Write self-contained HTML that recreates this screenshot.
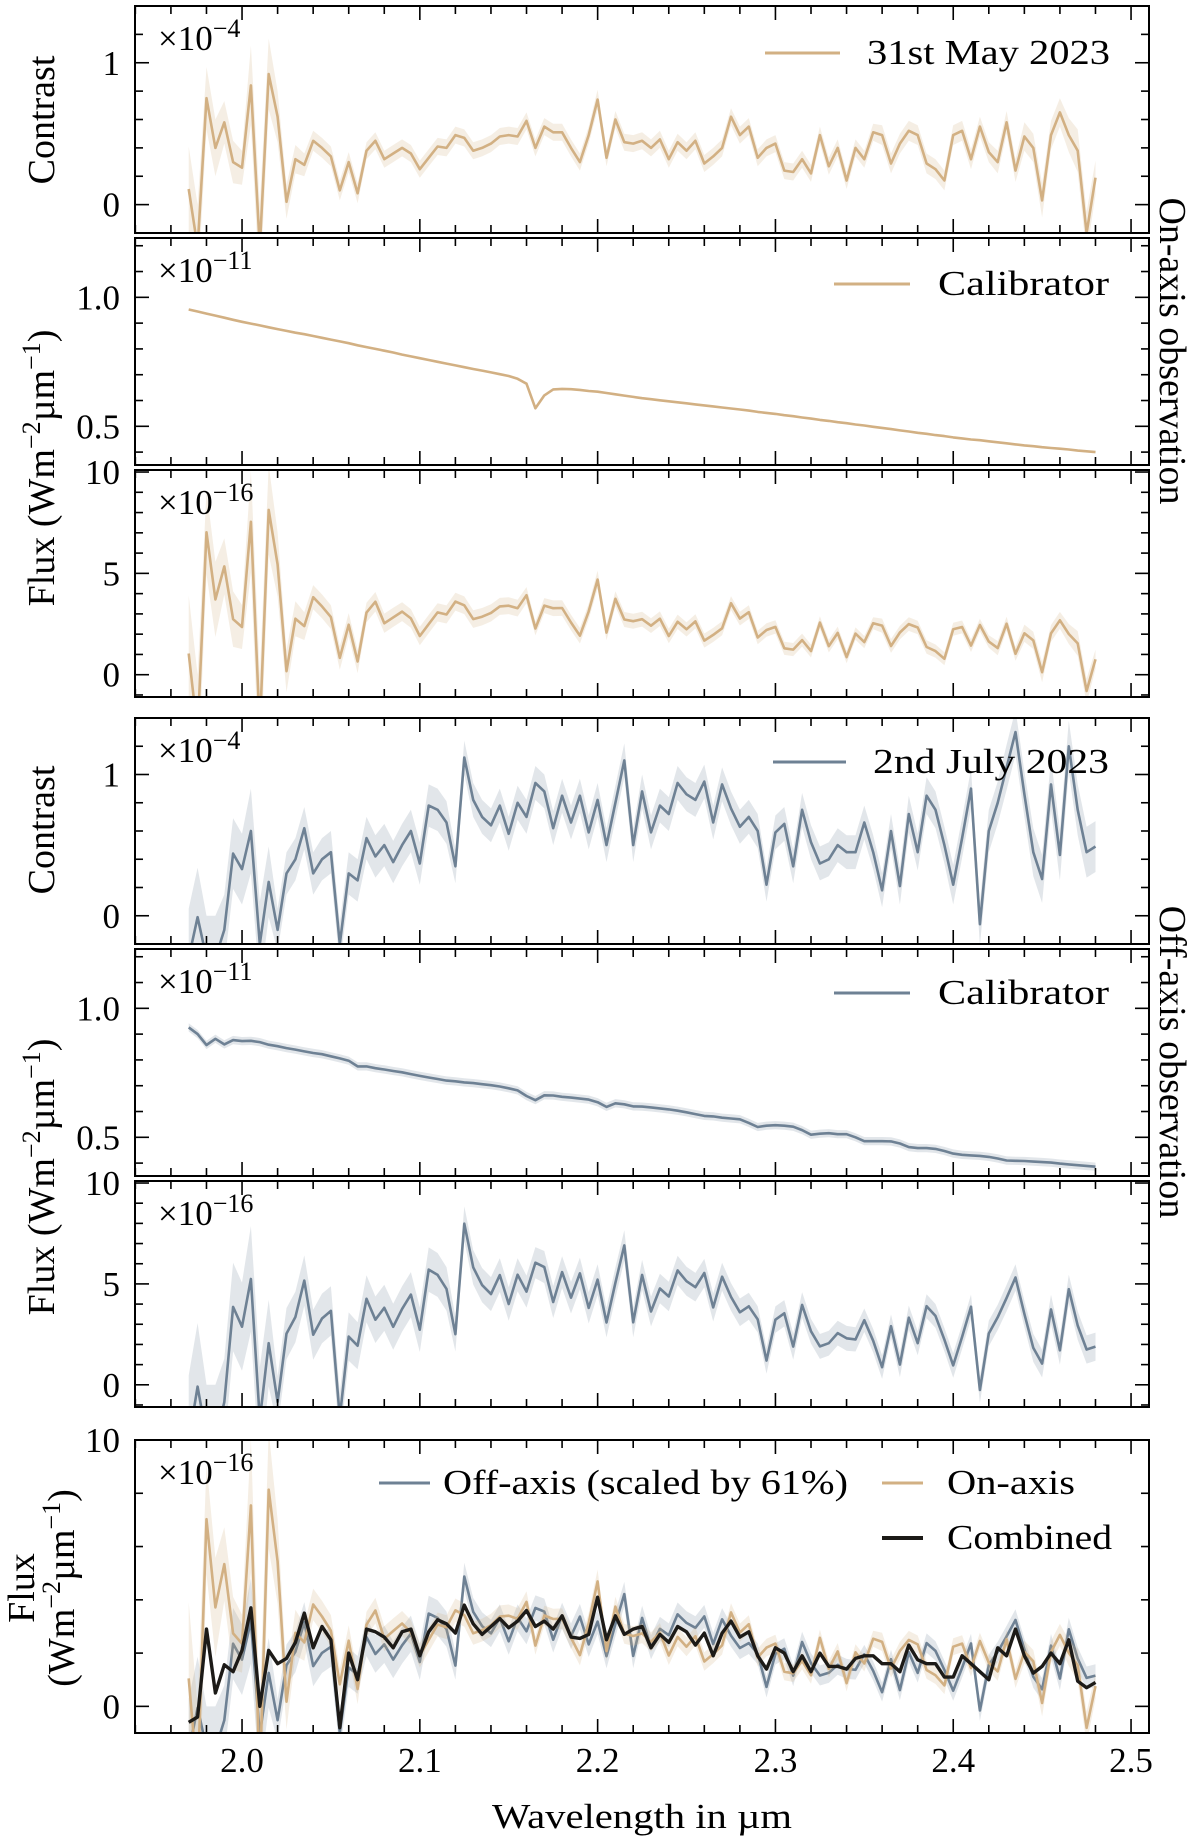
<!DOCTYPE html>
<html><head><meta charset="utf-8"><style>
html,body{margin:0;padding:0;background:#fff}
svg{display:block;font-family:"Liberation Serif","DejaVu Serif",serif}
</style></head><body>
<svg id="fig" width="1200" height="1846" viewBox="0 0 1200 1846" xmlns="http://www.w3.org/2000/svg"></svg>
<script>
const wlStart = 1.97;
const wlStep = 0.005;
const xTicks = [2.0, 2.1, 2.2, 2.3, 2.4, 2.5];
const xTickLabels = ["2.0","2.1","2.2","2.3","2.4","2.5"];
const contrastOn = [0.11,-0.3,0.75,0.40,0.58,0.30,0.26,0.84,-0.3,0.92,
0.62,0.02,0.32,0.28,0.45,0.40,0.34,0.10,0.30,0.08,
0.38,0.45,0.32,0.36,0.40,0.36,0.25,0.33,0.41,0.40,
0.49,0.47,0.38,0.40,0.43,0.48,0.49,0.48,0.59,0.40,
0.55,0.51,0.51,0.40,0.30,0.49,0.74,0.33,0.60,0.44,
0.43,0.45,0.40,0.46,0.32,0.44,0.38,0.45,0.29,0.34,
0.40,0.62,0.49,0.55,0.33,0.40,0.43,0.24,0.23,0.32,
0.22,0.49,0.27,0.40,0.17,0.40,0.32,0.51,0.49,0.29,
0.43,0.52,0.49,0.29,0.25,0.17,0.49,0.52,0.32,0.55,
0.37,0.30,0.58,0.24,0.48,0.40,0.03,0.49,0.65,0.49,
0.38,-0.2,0.19];
const contrastOnErr = [.30,.30,.22,.20,.15,.15,.12,.28,.30,.25,
.18,.12,.10,.08,.07,.07,.07,.07,.07,.07,
.06,.06,.06,.06,.06,.06,.06,.06,.06,.06,
.06,.06,.06,.06,.06,.06,.06,.06,.06,.06,
.06,.06,.06,.06,.06,.06,.07,.06,.06,.06,
.06,.06,.06,.06,.06,.06,.06,.06,.06,.06,
.06,.06,.06,.06,.06,.06,.06,.06,.06,.06,
.06,.06,.06,.06,.06,.06,.06,.06,.07,.07,
.07,.07,.07,.07,.07,.07,.07,.07,.07,.07,
.07,.08,.08,.08,.10,.10,.12,.10,.10,.12,
.15,.15,.12];
const calOn = [.953,.945,.937,.929,.921,.913,.905,.898,.891,.884,
.877,.870,.863,.857,.850,.843,.836,.829,.822,.814,
.807,.800,.793,.786,.778,.771,.764,.757,.750,.743,
.736,.729,.722,.716,.709,.702,.695,.684,.665,.570,
.620,.643,.645,.644,.641,.637,.634,.629,.624,.619,
.614,.609,.605,.601,.597,.593,.589,.585,.581,.577,
.573,.569,.565,.561,.556,.552,.548,.543,.539,.534,
.530,.525,.521,.516,.512,.507,.503,.498,.494,.489,
.484,.480,.475,.471,.466,.462,.457,.453,.449,.446,
.442,.438,.434,.430,.426,.423,.419,.416,.413,.410,
.406,.403,.400];
const contrastOff = [-0.3,-0.01,-0.3,-0.3,-0.1,0.44,0.33,0.60,-0.2,0.24,
-0.1,0.30,0.40,0.62,0.30,0.40,0.45,-0.2,0.30,0.25,
0.55,0.42,0.50,0.38,0.50,0.60,0.37,0.78,0.75,0.66,
0.35,1.12,0.82,0.70,0.64,0.78,0.58,0.80,0.70,0.94,
0.88,0.62,0.85,0.66,0.85,0.59,0.82,0.50,0.80,1.10,
0.50,0.88,0.59,0.78,0.72,0.94,0.86,0.82,0.95,0.66,
0.93,0.76,0.63,0.70,0.60,0.22,0.59,0.65,0.35,0.75,
0.52,0.37,0.40,0.50,0.45,0.45,0.66,0.45,0.18,0.60,
0.21,0.72,0.45,0.85,0.75,0.50,0.22,0.55,0.90,-0.06,
0.60,0.80,1.05,1.30,0.86,0.45,0.26,0.93,0.43,1.20,
0.75,0.45,0.49];
const contrastOffErr = [.35,.35,.30,.30,.25,.25,.25,.30,.30,.25,
.15,.15,.15,.15,.15,.15,.15,.15,.15,.15,
.15,.15,.15,.15,.15,.15,.15,.15,.15,.15,
.12,.12,.12,.12,.12,.12,.12,.12,.12,.12,
.12,.12,.12,.12,.12,.12,.12,.12,.12,.12,
.12,.12,.12,.12,.12,.12,.12,.12,.12,.12,
.12,.12,.12,.12,.12,.12,.12,.12,.12,.12,
.12,.12,.12,.12,.12,.12,.12,.12,.12,.12,
.13,.13,.13,.13,.13,.13,.14,.14,.14,.15,
.15,.15,.16,.16,.16,.17,.17,.18,.18,.18,
.18,.18,.18];
const calOff = [.926,.900,.858,.882,.860,.877,.873,.874,.869,.859,
.853,.846,.840,.833,.827,.822,.814,.806,.797,.775,
.775,.768,.763,.757,.752,.745,.738,.732,.726,.720,
.717,.713,.710,.706,.702,.697,.690,.682,.660,.644,
.663,.662,.657,.654,.650,.646,.636,.618,.632,.628,
.620,.619,.616,.612,.608,.603,.597,.590,.583,.581,
.576,.573,.570,.556,.540,.545,.547,.545,.541,.528,
.510,.514,.516,.512,.512,.500,.485,.485,.485,.484,
.476,.462,.458,.458,.455,.447,.437,.432,.430,.428,
.424,.418,.410,.409,.408,.406,.404,.402,.398,.395,
.392,.389,.386];
const calOffErr = 0.016;
const calOnErr = 0.003;
const offScale = 0.61;
const combined = [-0.6,-0.4,2.9,0.5,1.56,1.3,2.1,3.7,0.0,2.1,
1.6,1.8,2.4,3.5,2.2,3.0,2.5,-0.8,2.0,1.0,
2.9,2.8,2.6,2.2,2.8,2.9,1.9,2.8,3.25,3.1,
2.75,3.8,3.1,2.7,3.0,3.3,2.95,3.2,3.6,3.0,
3.2,2.9,3.4,2.6,2.55,2.7,4.1,2.5,3.4,2.7,
2.9,3.0,2.2,2.7,2.4,3.0,2.8,2.3,2.75,1.9,
2.75,3.2,2.6,2.8,1.9,1.4,2.2,2.0,1.3,1.9,
1.3,2.0,1.5,1.5,1.4,1.8,1.9,1.9,1.6,1.6,
1.3,2.3,1.75,1.6,1.6,1.1,1.1,1.9,1.6,1.3,
1.0,2.2,1.9,2.9,1.9,1.25,1.5,2.0,1.6,2.5,
0.95,0.7,0.9];

const NS = "http://www.w3.org/2000/svg";
const svg = document.getElementById('fig');
const TAN = "#d2b083", TANB = "rgba(210,176,131,0.22)";
const SLATE = "#6e8194", SLATEB = "rgba(110,129,148,0.2)";
const XL = 135, XR = 1149, XMIN = 1.9398, XMAX = 2.5101;
function xs(w){ return XL + (w - XMIN) / (XMAX - XMIN) * (XR - XL); }
function wl(i){ return wlStart + i * wlStep; }
function mk(tag, attrs, parent){ const e = document.createElementNS(NS, tag); for (const k in attrs) e.setAttribute(k, attrs[k]); (parent||svg).appendChild(e); return e; }

const panels = [
 {id:'p1', top:6, bot:233, ymin:-0.2, ymax:1.4, major:[0,1], labels:["0","1"], minor:0.2, exp:"−4"},
 {id:'p2', top:238, bot:465, ymin:0.35, ymax:1.23, major:[0.5,1.0], labels:["0.5","1.0"], minor:0.1, exp:"−11"},
 {id:'p3', top:470, bot:697, ymin:-1.1, ymax:10.1, major:[0,5,10], labels:["0","5","10"], minor:1, exp:"−16"},
 {id:'p4', top:718, bot:944, ymin:-0.2, ymax:1.4, major:[0,1], labels:["0","1"], minor:0.2, exp:"−4"},
 {id:'p5', top:949, bot:1176, ymin:0.35, ymax:1.23, major:[0.5,1.0], labels:["0.5","1.0"], minor:0.1, exp:"−11"},
 {id:'p6', top:1181, bot:1407, ymin:-1.1, ymax:10.1, major:[0,5,10], labels:["0","5","10"], minor:1, exp:"−16"},
 {id:'p7', top:1440, bot:1733, ymin:-1, ymax:10, major:[0,10], labels:["0","10"], minor:2, exp:"−16"}
];
function ysFn(p){ return v => p.bot - (v - p.ymin) / (p.ymax - p.ymin) * (p.bot - p.top); }

const defs = mk('defs', {});
panels.forEach(p => {
  const cp = mk('clipPath', {id:'clip-'+p.id}, defs);
  mk('rect', {x:XL, y:p.top, width:XR-XL, height:p.bot-p.top}, cp);
});

function drawSeries(p, vals, errs, color, band, width, name){
  const ys = ysFn(p);
  const g = mk('g', {'clip-path':'url(#clip-'+p.id+')'});
  
  
  if (errs !== null){
    let up = [], dn = [];
    vals.forEach((v,i) => { const e = Array.isArray(errs) ? errs[i] : errs; up.push(xs(wl(i)).toFixed(1)+','+ys(v+e).toFixed(1)); dn.unshift(xs(wl(i)).toFixed(1)+','+ys(v-e).toFixed(1)); });
    const b = mk('polygon', {points: up.concat(dn).join(' '), fill: band, stroke:'none'}, g);
    
    
  }
  const pts = vals.map((v,i) => xs(wl(i)).toFixed(1)+','+ys(v).toFixed(1)).join(' ');
  const l = mk('polyline', {points: pts, fill:'none', stroke: color, 'stroke-width': width, 'stroke-linejoin':'round'}, g);
  
  
}

const fluxOn = contrastOn.map((c,i) => 10 * c * calOn[i]);
const fluxOnErr = contrastOnErr.map((e,i) => 10 * e * calOn[i]);
const fluxOff = contrastOff.map((c,i) => 10 * c * calOff[i]);
const fluxOffErr = contrastOffErr.map((e,i) => 10 * e * calOff[i]);

drawSeries(panels[0], contrastOn, contrastOnErr, TAN, TANB, 2.6, 'on-axis-contrast');
drawSeries(panels[1], calOn, calOnErr, TAN, TANB, 2.6, 'on-axis-calibrator');
drawSeries(panels[2], fluxOn, fluxOnErr, TAN, TANB, 2.6, 'on-axis-flux');
drawSeries(panels[3], contrastOff, contrastOffErr, SLATE, SLATEB, 2.6, 'off-axis-contrast');
drawSeries(panels[4], calOff, calOffErr, SLATE, SLATEB, 2.6, 'off-axis-calibrator');
drawSeries(panels[5], fluxOff, fluxOffErr, SLATE, SLATEB, 2.6, 'off-axis-flux');
drawSeries(panels[6], fluxOff.map(v => v * offScale), fluxOffErr.map(v => v * offScale), SLATE, SLATEB, 2.6, 'combined-panel-off-axis');
drawSeries(panels[6], fluxOn, fluxOnErr, TAN, TANB, 2.6, 'combined-panel-on-axis');
drawSeries(panels[6], combined, null, '#1c1a17', null, 3.4, 'combined-spectrum');

panels.forEach((p, pi) => {
  const ys = ysFn(p);
  const g = mk('g', {});
  
  
  const fr = mk('rect', {x:XL, y:p.top, width:XR-XL, height:p.bot-p.top, fill:'none', stroke:'#000', 'stroke-width':2}, g);
  
  
  for (let k = 0; k <= 30; k++){
    const w = 1.94 + k * 0.02;
    if (w > XMAX) break;
    const x = xs(w);
    const isMajor = Math.abs((w*10) - Math.round(w*10)) < 1e-6;
    const L = isMajor ? 14 : 8;
    mk('line', {x1:x, x2:x, y1:p.bot, y2:p.bot-L, stroke:'#000', 'stroke-width':1.6}, g);
    mk('line', {x1:x, x2:x, y1:p.top, y2:p.top+L, stroke:'#000', 'stroke-width':1.6}, g);
  }
  const start = Math.ceil((p.ymin - 1e-9) / p.minor);
  for (let k = start; k * p.minor <= p.ymax + 1e-9; k++){
    const v = k * p.minor;
    const y = ys(v);
    const isMajor = p.major.some(m => Math.abs(m - v) < 1e-6);
    const L = isMajor ? 14 : 8;
    mk('line', {x1:XL, x2:XL+L, y1:y, y2:y, stroke:'#000', 'stroke-width':1.6}, g);
    mk('line', {x1:XR, x2:XR-L, y1:y, y2:y, stroke:'#000', 'stroke-width':1.6}, g);
  }
  p.major.forEach((m, mi) => {
    const t = mk('text', {x:120, y:ys(m)+12, 'text-anchor':'end', 'font-size':35}, g);
    t.textContent = p.labels[mi];
    
    
  });
  const off = mk('text', {x:158, y:p.top+44, 'font-size':35}, g);
  
  
  const t1 = mk('tspan', {}, off); t1.textContent = '×10';
  const t2 = mk('tspan', {dy:-13, 'font-size':26}, off); t2.textContent = p.exp;
});

xTicks.forEach((w, i) => {
  const t = mk('text', {x:xs(w), y:1772, 'text-anchor':'middle', 'font-size':35});
  t.textContent = xTickLabels[i];
  
  
});

function legendLine(x1, x2, y, color, w, name){
  const l = mk('line', {x1:x1, x2:x2, y1:y, y2:y, stroke:color, 'stroke-width':w});
  
  
}
function txt(x, y, s, size, name, extra){
  const t = mk('text', Object.assign({x:x, y:y, 'font-size':size}, extra||{}));
  t.textContent = s;
  
  
  return t;
}
const LA = 'spacingAndGlyphs';
legendLine(765, 840, 53, TAN, 3, 'legend-on-axis-swatch');
txt(867, 64, '31st May 2023', 35, 'legend-on-axis-date', {textLength:243, lengthAdjust:LA});
legendLine(834, 910, 284, TAN, 3, 'legend-on-calibrator-swatch');
txt(938, 295, 'Calibrator', 35, 'legend-on-calibrator-label', {textLength:171, lengthAdjust:LA});
legendLine(773, 846, 762, SLATE, 3, 'legend-off-axis-swatch');
txt(873, 773, '2nd July 2023', 35, 'legend-off-axis-date', {textLength:236, lengthAdjust:LA});
legendLine(834, 910, 993, SLATE, 3, 'legend-off-calibrator-swatch');
txt(938, 1004, 'Calibrator', 35, 'legend-off-calibrator-label', {textLength:171, lengthAdjust:LA});
legendLine(379, 430, 1483, SLATE, 3, 'legend-off-axis-scaled-swatch');
txt(443, 1494, 'Off-axis (scaled by 61%)', 35, 'legend-off-axis-scaled-label', {textLength:405, lengthAdjust:LA});
legendLine(882, 923, 1483, TAN, 3, 'legend-on-axis-swatch-bottom');
txt(947, 1494, 'On-axis', 35, 'legend-on-axis-label', {textLength:128, lengthAdjust:LA});
legendLine(882, 923, 1538, '#1c1a17', 4, 'legend-combined-swatch');
txt(947, 1549, 'Combined', 35, 'legend-combined-label', {textLength:165, lengthAdjust:LA});

txt(642, 1828, 'Wavelength in µm', 35, 'x-axis-title', {'text-anchor':'middle', textLength:300, lengthAdjust:LA});

function vlabel(x, y, parts, name, rot, len){
  const a = {x:0, y:0, 'font-size':38, 'text-anchor':'middle', transform:'translate('+x+','+y+') rotate('+(rot||-90)+')'};
  const t = mk('text', a);
  
  
  parts.forEach(pp => { const s = mk('tspan', pp[1] ? {dy:pp[1], 'font-size':pp[2]} : {}, t); s.textContent = pp[0]; });
  return t;
}
const FL = [['Flux (Wm'],['−2',-14,26],['µm',14,38],['−1',-14,26],[')',14,38]];
vlabel(54, 120, [['Contrast']], 'y-axis-title-contrast-on');
vlabel(54, 830, [['Contrast']], 'y-axis-title-contrast-off');
vlabel(54, 468, FL, 'y-axis-title-flux-on');
vlabel(54, 1177, FL, 'y-axis-title-flux-off');
vlabel(34, 1588, [['Flux']], 'y-axis-title-flux-combined-1');
vlabel(74, 1588, [['(Wm'],['−2',-14,26],['µm',14,38],['−1',-14,26],[')',14,38]], 'y-axis-title-flux-combined-2');
vlabel(1160, 351, [['On-axis observation']], 'group-label-on-axis', 90);
vlabel(1160, 1062, [['Off-axis observation']], 'group-label-off-axis', 90);
</script>
</body></html>
